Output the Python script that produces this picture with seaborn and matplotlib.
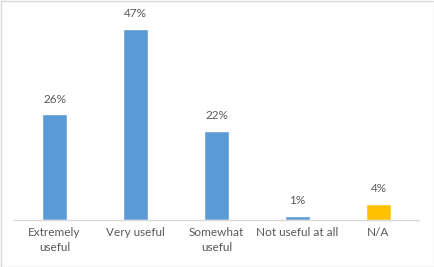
import matplotlib
matplotlib.use("Agg")
import matplotlib.pyplot as plt
import seaborn as sns
import pandas as pd
from matplotlib.patches import Rectangle

categories = ["Extremely\nuseful", "Very useful", "Somewhat\nuseful", "Not useful at all", "N/A"]
values = [26, 47, 22, 1, 4]
labels = ["26%", "47%", "22%", "1%", "4%"]
colors = ["#5B9BD5", "#5B9BD5", "#5B9BD5", "#5B9BD5", "#FFC000"]

sns.set_theme(style="white")
plt.rcParams['font.family'] = ['Lato', 'DejaVu Sans']

df = pd.DataFrame({"cat": categories, "val": values})

fig = plt.figure(figsize=(4.34, 2.67), dpi=100)
ax = fig.add_axes([14/434, 1 - 220/267, 405/434, 203/267])
sns.barplot(data=df, x="cat", y="val", hue="cat", palette=colors, legend=False,
            width=0.32, ax=ax, saturation=1)
ax.set_ylim(0, 50)
ax.set_xlim(-0.5, 4.5)
ax.set_xlabel("")
ax.set_ylabel("")
ax.set_yticks([])
for s in ["top", "right", "left"]:
    ax.spines[s].set_visible(False)
ax.spines["bottom"].set_color("#D9D9D9")
ax.spines["bottom"].set_linewidth(1)
ax.tick_params(axis="x", length=0, labelbottom=False)

for i, cat in enumerate(categories):
    ax.annotate(cat, (i, 0), xycoords=("data", "axes fraction"), xytext=(0, -5),
                textcoords="offset points", ha="center", va="top",
                multialignment="center", linespacing=1.45,
                fontsize=8.5, color="#595959")

for i, (v, lab) in enumerate(zip(values, labels)):
    ax.annotate(lab, (i, v), xytext=(0, 7), textcoords="offset points",
                ha="center", va="bottom", fontsize=8.5, color="#595959")

fig.patches.append(Rectangle((0.5/434, 0.5/267), 433/434, 266/267, transform=fig.transFigure,
                             fill=False, edgecolor="#D9D9D9", linewidth=1))
fig.savefig("out.png", dpi=100)
